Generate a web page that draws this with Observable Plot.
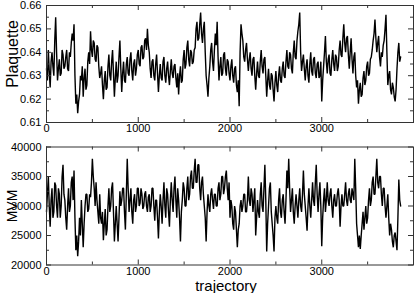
<!DOCTYPE html>
<html><head><meta charset="utf-8">
<script src="https://cdn.jsdelivr.net/npm/d3@7"></script>
<script src="https://cdn.jsdelivr.net/npm/@observablehq/plot@0.6"></script>
<style>
body{margin:0;background:#fff;}
#c svg{display:block;}
</style></head><body><div id="c"></div>
<script>
// trajectory step between stored samples
const step = 10;
// Plaquette values, trajectory 0,10,...,3860
const plaquette = [
.633,.628,.641,.632,.625,.636,.640,.634,.630,.645,.655,.640,.628,.633,.637,.630,.631,.641,.639,.633,
.634,.638,.641,.633,.632,.640,.638,.644,.648,.645,.652,.630,.618,.622,.614,.619,.622,.630,.628,.634,
.621,.629,.633,.624,.626,.636,.640,.635,.649,.641,.638,.645,.644,.637,.636,.643,.642,.634,.629,.631,
.634,.626,.620,.628,.632,.624,.625,.634,.639,.630,.628,.636,.641,.631,.621,.629,.636,.627,.630,.638,
.645,.633,.623,.631,.636,.628,.627,.635,.638,.631,.630,.637,.640,.632,.628,.635,.637,.630,.633,.639,
.641,.635,.634,.642,.643,.637,.638,.645,.646,.641,.650,.643,.640,.633,.629,.636,.637,.630,.628,.635,
.639,.631,.623,.630,.635,.629,.628,.636,.638,.630,.627,.633,.636,.630,.626,.632,.637,.631,.629,.634,
.635,.629,.625,.631,.622,.630,.634,.627,.628,.637,.641,.633,.635,.642,.645,.637,.634,.641,.640,.635,
.636,.641,.642,.650,.653,.645,.646,.652,.657,.648,.644,.650,.653,.640,.630,.626,.621,.629,.634,.641,
.644,.636,.632,.641,.648,.643,.653,.638,.628,.634,.638,.630,.631,.639,.640,.633,.630,.637,.636,.631,
.628,.634,.637,.630,.627,.633,.634,.626,.623,.628,.617,.640,.652,.648,.645,.638,.636,.641,.644,.637,
.632,.637,.640,.633,.630,.637,.638,.630,.624,.631,.636,.630,.629,.636,.641,.634,.631,.637,.638,.630,
.621,.628,.633,.626,.624,.631,.630,.624,.619,.627,.632,.626,.623,.630,.634,.628,.627,.633,.636,.630,
.629,.636,.641,.634,.633,.640,.639,.633,.631,.640,.645,.638,.637,.645,.649,.652,.657,.640,.632,.636,
.639,.633,.628,.634,.637,.630,.627,.635,.640,.632,.630,.637,.638,.631,.629,.635,.636,.629,.630,.636,
.619,.628,.634,.640,.647,.636,.631,.637,.639,.631,.630,.637,.641,.635,.632,.639,.638,.632,.634,.641,
.645,.639,.638,.646,.652,.644,.640,.646,.647,.639,.633,.640,.646,.637,.631,.638,.640,.630,.625,.628,
.618,.624,.627,.621,.622,.629,.632,.626,.628,.634,.636,.630,.631,.637,.638,.641,.645,.648,.654,.646,
.640,.644,.647,.638,.634,.640,.638,.643,.645,.650,.656,.640,.626,.630,.632,.624,.622,.627,.625,.621,
.619,.624,.633,.640,.644,.636,.638
];
// MVM values (thousands), trajectory 0,10,...,3860
const mvmK = [
29,32,35,30,26.5,31,33,28,29,34,33.5,30,28,33,32,28,30,35,37,32,
31,28,26,30,33,29,30,34,35,31,36,28,22.5,25,21.5,24,28,25,31,27,
23,27,30,32,32,29,29.5,32,31.5,34,38,35,33,30,34,31,29,27,32,28,
27,29,24.2,27,29.5,25,26,30,33,29,30,33,34,29,24,27,30,27,24,28,
32.5,30,31,33,33,29,26,32,38,33,29,31,33,29,27,31,32,29,30,33,
33,30,30.5,33,32,29.5,30,32,32.5,30,29,31.5,32,29,30,33,33,30,27.5,31,
31,28,24.5,29,32,30,27,31,34,30,28,33,32,29,26.5,31,34,31,29,33,
35,31,28,33,31,28,24,29,31,34,33,30,30,33,35,31,32,35,36,33,
33,36,38,34,34,37,37,33,31,34,35,32,30,28,24,29,32,30,29,32,
33,31,29.5,32,32,30,30,33,34,31,32,35,35,32,33,35,36,33,31,34,
28,31,30,27,26,30,29,26,23,26,27,30,31,29,30,32,32,29,29,31,
35,31,30,33,32,29,31,33,25,28,31,29,28,32,34,30,29,33,37,31,
22.3,27,30,33,34,29,27,25,22.3,28,30,28,27,31,33,29,28,31,32,29,
27,31,36,33,38,33,29,31,33,29,27,30,32,30,28,31,33,30,29,32,
36,32,30,28,25.8,30,33,30,28,31,34,31,30,34,37,32,29,32,34,30,
23.2,28,31,33,29,31,34,31,30,32,33,30,28,31,32,30,30,32,33,31,
26.5,30,32,30,30,32,34,31,30,32,33,31,30.5,33,32,31,38,33,27,25,
23,25,22.7,25,27,29,26,28,30,27,28,31,33,30,31,34,35,32,32,35,
38,34,33,35,35,32,30,33,33,30,28,30,32,28,25,27,26,24,23,25,
25.5,24,22.5,28,34.5,31,30
];
const xTicks = [0, 1000, 2000, 3000];
const xMinor = [500, 1500, 2500, 3500];
const plaqTicks = [0.61, 0.62, 0.63, 0.64, 0.65, 0.66];
const plaqMinor = [0.615, 0.625, 0.635, 0.645, 0.655];
const mvmTicks = [20000, 25000, 30000, 35000, 40000];
const mvmMinor = [22500, 27500, 32500, 37500];

const W = 415, ML = 46, MR = 2;
const FW = W - ML - MR;
const FONT = "Liberation Sans, Arial, Helvetica, sans-serif";
const EDGE = "#333";

function panel({values, scale, yDomain, yMajor, yMinor, yFormat, ylabel, ylabelSize, ylabelDy, height, mt, mb, xlabel}) {
  const data = values.map((v, i) => ({t: i * step, v: v * scale}));
  const H = height - mt - mb;
  const marks = [
    Plot.line(data, {x: "t", y: "v", stroke: "black", strokeWidth: 1.4, strokeLinejoin: "miter"}),
    Plot.frame({stroke: EDGE}),
    Plot.tickX(xTicks, {x: d => d, insetTop: H - 5, stroke: EDGE}),
    Plot.tickX(xTicks, {x: d => d, insetBottom: H - 5, stroke: EDGE}),
    Plot.tickX(xMinor, {x: d => d, insetTop: H - 3, stroke: EDGE}),
    Plot.tickX(xMinor, {x: d => d, insetBottom: H - 3, stroke: EDGE}),
    Plot.tickY(yMajor, {y: d => d, insetRight: FW - 5, stroke: EDGE}),
    Plot.tickY(yMajor, {y: d => d, insetLeft: FW - 5, stroke: EDGE}),
    Plot.tickY(yMinor, {y: d => d, insetRight: FW - 3, stroke: EDGE}),
    Plot.tickY(yMinor, {y: d => d, insetLeft: FW - 3, stroke: EDGE}),
    Plot.axisX({ticks: xTicks, tickSize: 0, tickPadding: 2, tickFormat: d => String(d), label: null, fontSize: 11}),
    Plot.axisY({ticks: yMajor, tickSize: 0, tickPadding: 5, tickFormat: yFormat, label: null, fontSize: 11}),
    Plot.text([ylabel], {frameAnchor: "left", textAnchor: "middle", lineAnchor: "middle", dx: -34, dy: ylabelDy,
      rotate: -90, fontSize: ylabelSize, text: d => d, fill: "black"})
  ];
  if (xlabel) marks.push(Plot.text([xlabel], {frameAnchor: "bottom", textAnchor: "middle", lineAnchor: "middle",
    dx: -4, dy: 21, fontSize: 15, text: d => d, fill: "black"}));
  return Plot.plot({
    width: W, height, marginLeft: ML, marginRight: MR, marginTop: mt, marginBottom: mb,
    style: {fontFamily: FONT, fontSize: "11px", color: "black", background: "white"},
    x: {domain: [0, 4000]},
    y: {domain: yDomain},
    marks
  });
}

const topPanel = panel({values: plaquette, scale: 1, yDomain: [0.61, 0.66], yMajor: plaqTicks, yMinor: plaqMinor,
  yFormat: d3.format(".2f"), ylabel: "Plaquette", ylabelSize: 16, ylabelDy: -10, height: 140, mt: 5, mb: 18});
const botPanel = panel({values: mvmK, scale: 1000, yDomain: [20000, 40000], yMajor: mvmTicks, yMinor: mvmMinor,
  yFormat: d3.format("d"), ylabel: "MVM", ylabelSize: 14, ylabelDy: 0, height: 153, mt: 6.5, mb: 28.5, xlabel: "trajectory"});
document.getElementById("c").append(topPanel, botPanel);
</script>
</body></html>
